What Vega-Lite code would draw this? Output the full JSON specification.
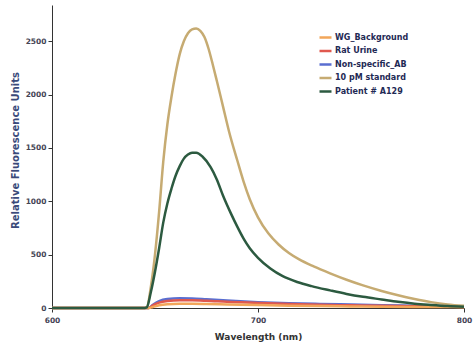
{
  "$schema": "https://vega.github.io/schema/vega-lite/v6.json",
  "width": 412,
  "height": 303,
  "autosize": "none",
  "padding": {"left": 52, "top": 5, "right": 11, "bottom": 37},
  "background": "white",
  "config": {"view": {"stroke": null}, "font": "DejaVu Sans"},
  "datasets": {
    "low": [
      {"s": "Non-specific_AB", "wl": 600, "rfu": 0}, {"s": "Non-specific_AB", "wl": 647, "rfu": 0}, {"s": "Non-specific_AB", "wl": 649, "rfu": 30}, {"s": "Non-specific_AB", "wl": 652, "rfu": 65}, {"s": "Non-specific_AB", "wl": 656, "rfu": 85}, {"s": "Non-specific_AB", "wl": 662, "rfu": 92}, {"s": "Non-specific_AB", "wl": 668, "rfu": 90}, {"s": "Non-specific_AB", "wl": 675, "rfu": 82}, {"s": "Non-specific_AB", "wl": 685, "rfu": 70}, {"s": "Non-specific_AB", "wl": 700, "rfu": 55}, {"s": "Non-specific_AB", "wl": 715, "rfu": 45}, {"s": "Non-specific_AB", "wl": 730, "rfu": 38}, {"s": "Non-specific_AB", "wl": 745, "rfu": 32}, {"s": "Non-specific_AB", "wl": 760, "rfu": 26}, {"s": "Non-specific_AB", "wl": 775, "rfu": 22}, {"s": "Non-specific_AB", "wl": 790, "rfu": 18}, {"s": "Non-specific_AB", "wl": 800, "rfu": 16},
      {"s": "Rat Urine", "wl": 600, "rfu": 0}, {"s": "Rat Urine", "wl": 647, "rfu": 0}, {"s": "Rat Urine", "wl": 649, "rfu": 25}, {"s": "Rat Urine", "wl": 652, "rfu": 50}, {"s": "Rat Urine", "wl": 656, "rfu": 65}, {"s": "Rat Urine", "wl": 662, "rfu": 72}, {"s": "Rat Urine", "wl": 668, "rfu": 72}, {"s": "Rat Urine", "wl": 675, "rfu": 68}, {"s": "Rat Urine", "wl": 685, "rfu": 58}, {"s": "Rat Urine", "wl": 700, "rfu": 48}, {"s": "Rat Urine", "wl": 715, "rfu": 38}, {"s": "Rat Urine", "wl": 730, "rfu": 30}, {"s": "Rat Urine", "wl": 745, "rfu": 25}, {"s": "Rat Urine", "wl": 760, "rfu": 20}, {"s": "Rat Urine", "wl": 775, "rfu": 16}, {"s": "Rat Urine", "wl": 790, "rfu": 13}, {"s": "Rat Urine", "wl": 800, "rfu": 12},
      {"s": "WG_Background", "wl": 600, "rfu": 0}, {"s": "WG_Background", "wl": 647, "rfu": 0}, {"s": "WG_Background", "wl": 649, "rfu": 10}, {"s": "WG_Background", "wl": 652, "rfu": 25}, {"s": "WG_Background", "wl": 656, "rfu": 35}, {"s": "WG_Background", "wl": 662, "rfu": 40}, {"s": "WG_Background", "wl": 668, "rfu": 40}, {"s": "WG_Background", "wl": 675, "rfu": 38}, {"s": "WG_Background", "wl": 685, "rfu": 33}, {"s": "WG_Background", "wl": 700, "rfu": 27}, {"s": "WG_Background", "wl": 715, "rfu": 22}, {"s": "WG_Background", "wl": 730, "rfu": 18}, {"s": "WG_Background", "wl": 745, "rfu": 15}, {"s": "WG_Background", "wl": 760, "rfu": 12}, {"s": "WG_Background", "wl": 775, "rfu": 10}, {"s": "WG_Background", "wl": 790, "rfu": 9}, {"s": "WG_Background", "wl": 800, "rfu": 8}
    ],
    "high": [
      {"s": "10 pM standard", "wl": 600, "rfu": 0}, {"s": "10 pM standard", "wl": 645, "rfu": 0}, {"s": "10 pM standard", "wl": 646, "rfu": 5}, {"s": "10 pM standard", "wl": 648, "rfu": 200}, {"s": "10 pM standard", "wl": 650, "rfu": 500}, {"s": "10 pM standard", "wl": 652, "rfu": 900}, {"s": "10 pM standard", "wl": 654, "rfu": 1370}, {"s": "10 pM standard", "wl": 656, "rfu": 1720}, {"s": "10 pM standard", "wl": 658, "rfu": 1980}, {"s": "10 pM standard", "wl": 660, "rfu": 2200}, {"s": "10 pM standard", "wl": 662, "rfu": 2380}, {"s": "10 pM standard", "wl": 664, "rfu": 2500}, {"s": "10 pM standard", "wl": 666, "rfu": 2575}, {"s": "10 pM standard", "wl": 668, "rfu": 2612}, {"s": "10 pM standard", "wl": 670, "rfu": 2620}, {"s": "10 pM standard", "wl": 672, "rfu": 2598}, {"s": "10 pM standard", "wl": 674, "rfu": 2540}, {"s": "10 pM standard", "wl": 676, "rfu": 2430}, {"s": "10 pM standard", "wl": 678, "rfu": 2285}, {"s": "10 pM standard", "wl": 680, "rfu": 2130}, {"s": "10 pM standard", "wl": 683, "rfu": 1890}, {"s": "10 pM standard", "wl": 686, "rfu": 1650}, {"s": "10 pM standard", "wl": 690, "rfu": 1380}, {"s": "10 pM standard", "wl": 693, "rfu": 1185}, {"s": "10 pM standard", "wl": 696, "rfu": 1020}, {"s": "10 pM standard", "wl": 700, "rfu": 850}, {"s": "10 pM standard", "wl": 705, "rfu": 700}, {"s": "10 pM standard", "wl": 710, "rfu": 595}, {"s": "10 pM standard", "wl": 715, "rfu": 515}, {"s": "10 pM standard", "wl": 720, "rfu": 455}, {"s": "10 pM standard", "wl": 727, "rfu": 390}, {"s": "10 pM standard", "wl": 735, "rfu": 325}, {"s": "10 pM standard", "wl": 743, "rfu": 265}, {"s": "10 pM standard", "wl": 751, "rfu": 212}, {"s": "10 pM standard", "wl": 760, "rfu": 160}, {"s": "10 pM standard", "wl": 768, "rfu": 120}, {"s": "10 pM standard", "wl": 776, "rfu": 85}, {"s": "10 pM standard", "wl": 784, "rfu": 55}, {"s": "10 pM standard", "wl": 792, "rfu": 33}, {"s": "10 pM standard", "wl": 800, "rfu": 20},
      {"s": "Patient # A129", "wl": 600, "rfu": 0}, {"s": "Patient # A129", "wl": 645, "rfu": 0}, {"s": "Patient # A129", "wl": 646, "rfu": 5}, {"s": "Patient # A129", "wl": 648, "rfu": 150}, {"s": "Patient # A129", "wl": 650, "rfu": 340}, {"s": "Patient # A129", "wl": 652, "rfu": 560}, {"s": "Patient # A129", "wl": 654, "rfu": 800}, {"s": "Patient # A129", "wl": 656, "rfu": 980}, {"s": "Patient # A129", "wl": 658, "rfu": 1120}, {"s": "Patient # A129", "wl": 660, "rfu": 1240}, {"s": "Patient # A129", "wl": 662, "rfu": 1330}, {"s": "Patient # A129", "wl": 664, "rfu": 1400}, {"s": "Patient # A129", "wl": 666, "rfu": 1438}, {"s": "Patient # A129", "wl": 668, "rfu": 1455}, {"s": "Patient # A129", "wl": 670, "rfu": 1455}, {"s": "Patient # A129", "wl": 673, "rfu": 1420}, {"s": "Patient # A129", "wl": 677, "rfu": 1320}, {"s": "Patient # A129", "wl": 680, "rfu": 1205}, {"s": "Patient # A129", "wl": 683, "rfu": 1055}, {"s": "Patient # A129", "wl": 687, "rfu": 880}, {"s": "Patient # A129", "wl": 690, "rfu": 760}, {"s": "Patient # A129", "wl": 693, "rfu": 650}, {"s": "Patient # A129", "wl": 696, "rfu": 560}, {"s": "Patient # A129", "wl": 700, "rfu": 470}, {"s": "Patient # A129", "wl": 706, "rfu": 370}, {"s": "Patient # A129", "wl": 712, "rfu": 298}, {"s": "Patient # A129", "wl": 719, "rfu": 244}, {"s": "Patient # A129", "wl": 726, "rfu": 205}, {"s": "Patient # A129", "wl": 735, "rfu": 165}, {"s": "Patient # A129", "wl": 743, "rfu": 132}, {"s": "Patient # A129", "wl": 751, "rfu": 105}, {"s": "Patient # A129", "wl": 760, "rfu": 80}, {"s": "Patient # A129", "wl": 768, "rfu": 58}, {"s": "Patient # A129", "wl": 776, "rfu": 40}, {"s": "Patient # A129", "wl": 784, "rfu": 28}, {"s": "Patient # A129", "wl": 792, "rfu": 18}, {"s": "Patient # A129", "wl": 800, "rfu": 12}
    ]
  },
  "encoding": {
    "x": {
      "field": "wl", "type": "quantitative",
      "scale": {"domain": [600, 800], "nice": false},
      "axis": {
        "title": "Wavelength (nm)", "values": [600, 700, 800], "grid": false, "labelFlush": false,
        "domainColor": "#333", "tickColor": "#333", "tickSize": 4,
        "labelFont": "DejaVu Sans", "labelFontSize": 7.5, "labelFontWeight": "bold", "labelColor": "#445",
        "labelPadding": 4,
        "titleFont": "DejaVu Sans", "titleFontSize": 9, "titleFontWeight": "bold", "titleColor": "#333", "titlePadding": 9
      }
    },
    "y": {
      "field": "rfu", "type": "quantitative",
      "scale": {"domain": [0, 2840], "nice": false},
      "axis": {
        "title": "Relative Fluorescence Units", "values": [0, 500, 1000, 1500, 2000, 2500], "grid": false, "format": "d",
        "domainColor": "#333", "tickColor": "#333", "tickSize": 4,
        "labelFont": "DejaVu Sans", "labelFontSize": 7.5, "labelFontWeight": "bold", "labelColor": "#445",
        "labelPadding": 2,
        "titleFont": "DejaVu Sans", "titleFontSize": 10, "titleFontWeight": "bold", "titleColor": "#3a4a7a", "titlePadding": 5, "titleY": 145
      }
    },
    "color": {
      "field": "s", "type": "nominal",
      "scale": {
        "domain": ["WG_Background", "Rat Urine", "Non-specific_AB", "10 pM standard", "Patient # A129"],
        "range": ["#f2a65a", "#e0584e", "#5a6ed0", "#c6ab72", "#2c5a40"]
      },
      "legend": {
        "title": null, "orient": "none", "legendX": 266, "legendY": 25,
        "symbolType": "stroke", "symbolSize": 144, "symbolStrokeWidth": 1.5,
        "labelFont": "DejaVu Sans", "labelFontSize": 8, "labelFontWeight": "bold", "labelColor": "#1f2a55",
        "rowPadding": 0.5, "labelOffset": 2
      }
    },
    "strokeWidth": {
      "field": "s", "type": "nominal",
      "scale": {
        "domain": ["WG_Background", "Rat Urine", "Non-specific_AB", "10 pM standard", "Patient # A129"],
        "range": [2.5, 2.5, 2.5, 1.8, 2.2]
      },
      "legend": null
    }
  },
  "layer": [
    {"data": {"name": "low"}, "mark": {"type": "line", "interpolate": "monotone"}},
    {"data": {"name": "high"}, "mark": {"type": "line", "interpolate": "monotone"}}
  ]
}
